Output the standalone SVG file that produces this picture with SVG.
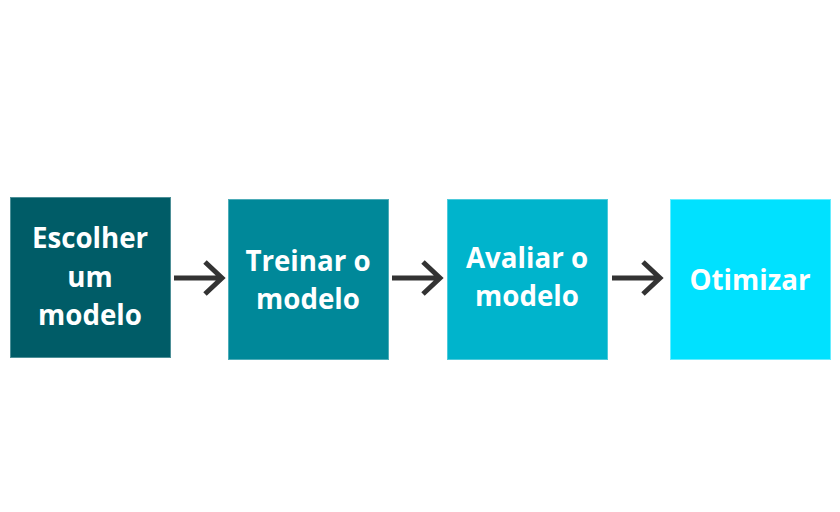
<svg xmlns="http://www.w3.org/2000/svg" width="840" height="512" viewBox="0 0 840 512">
<style>
.box{stroke-width:1}
.t{font-family:"Open Sans","Noto Sans",sans-serif;font-weight:700;font-size:27.7px;fill:#ffffff;text-anchor:middle}
.c{stroke:#333333;stroke-width:5;fill:none}
</style>
<rect width="840" height="512" fill="#ffffff"/>
<g id="n1"><rect class="box" x="10.5" y="197.5" width="160" height="160" fill="#005c67" stroke="#4d8f97"/>
<text class="t" x="90" y="248">Escolher</text><text class="t" x="90" y="287">um</text><text class="t" x="90" y="325">modelo</text></g>
<g id="n2"><rect class="box" x="228.5" y="199.5" width="160" height="160" fill="#008899" stroke="#4dacb8"/>
<text class="t" x="308" y="271">Treinar o</text><text class="t" x="308" y="309">modelo</text></g>
<g id="n3"><rect class="box" x="447.5" y="199.5" width="160" height="160" fill="#00b4cc" stroke="#4dcadb"/>
<text class="t" x="527" y="268">Avaliar o</text><text class="t" x="527" y="306">modelo</text></g>
<g id="n4"><rect class="box" x="670.5" y="199.5" width="160" height="160" fill="#00e1ff" stroke="#66edff"/>
<text class="t" x="750" y="290">Otimizar</text></g>
<g id="connectors">
<path class="c" d="M174 278H222M205 262L222 278L205 294"/>
<path class="c" d="M392 278H440M423 262L440 278L423 294"/>
<path class="c" d="M612 278H660M643 262L660 278L643 294"/>
</g>
</svg>
